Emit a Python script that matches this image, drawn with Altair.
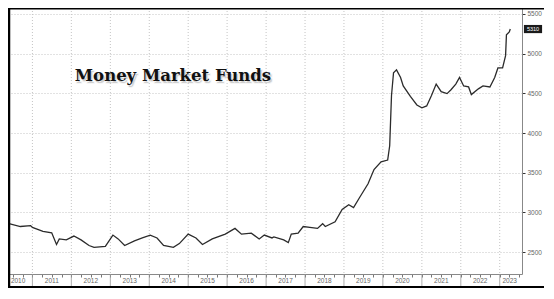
import altair as alt
import pandas as pd

# ---- data (Money Market Fund assets, $bn) ----
dates = ["2010-05-17","2010-09-10","2010-12-15","2011-01-01","2011-04-10","2011-07-01","2011-08-15","2011-09-10",
         "2011-11-15","2012-01-25","2012-04-01","2012-06-15","2012-08-01","2012-11-15","2013-01-25","2013-03-15",
         "2013-05-15","2013-08-15","2013-10-28","2014-01-10","2014-03-15","2014-05-15","2014-08-15","2014-10-10",
         "2015-01-01","2015-03-15","2015-05-15","2015-08-15","2015-12-15","2016-03-15","2016-05-15","2016-08-15",
         "2016-10-28","2016-12-15","2017-02-25","2017-03-15","2017-06-15","2017-07-28","2017-08-25","2017-10-28",
         "2017-12-15","2018-02-15","2018-04-28","2018-06-15","2018-07-10","2018-10-10","2018-12-15","2019-02-15",
         "2019-04-01","2019-05-25","2019-08-15","2019-10-10","2019-12-15","2020-02-15","2020-03-05","2020-03-22",
         "2020-04-10","2020-05-08","2020-06-15","2020-07-10","2020-09-15","2020-11-15","2021-01-01","2021-02-15",
         "2021-04-01","2021-05-15","2021-07-01","2021-08-25","2021-10-01","2021-11-15","2021-12-20","2022-01-28",
         "2022-03-15","2022-04-10","2022-06-15","2022-07-28","2022-10-01","2022-11-15","2022-12-15","2023-01-28",
         "2023-02-25","2023-03-05","2023-04-01","2023-04-10"]
values = [2862,2823,2835,2811,2763,2743,2596,2667,2655,2703,2655,2584,2560,2572,2715,2667,
          2584,2643,2679,2715,2679,2584,2560,2608,2727,2679,2596,2667,2727,2799,2727,2739,
          2667,2715,2679,2691,2655,2620,2727,2739,2823,2811,2799,2859,2823,2883,3038,3098,
          3062,3182,3361,3541,3637,3660,3840,4473,4760,4796,4700,4593,4461,4354,4318,4342,
          4473,4617,4521,4497,4545,4617,4700,4593,4581,4485,4557,4593,4581,4700,4820,4820,
          4975,5238,5274,5310]
assert len(dates) == len(values)

year_starts = [f"{y}-01-01" for y in range(2011, 2024)]
year_labels = ["2010","2011","2012","2013","2014","2015","2016","2017","2018","2019","2020","2021","2022","2023"]
label_dates = ["2010-08-20","2011-07-02","2012-07-02","2013-07-02","2014-07-02","2015-07-02","2016-07-02",
               "2017-07-02","2018-07-02","2019-07-02","2020-07-02","2021-07-02","2022-07-02","2023-04-05"]
y_ticks = [2500, 3000, 3500, 4000, 4500, 5000, 5500]
title_text = "Money Market Funds"

W, H = 514, 266
RP = 22

df = pd.DataFrame({"date": pd.to_datetime(dates), "value": values})
last = df.tail(1).copy()
last["label"] = last["value"].astype(str)
years_df = pd.DataFrame({"date": pd.to_datetime(year_starts)})
labels_df = pd.DataFrame({"date": pd.to_datetime(label_dates), "label": year_labels})
quarters = pd.date_range("2010-07-01", "2023-07-01", freq="QS")

xscale = alt.Scale(domain=[alt.DateTime(year=2010, month=5, date=17),
                           alt.DateTime(year=2023, month=7, date=29)])
yscale = alt.Scale(domain=[2225, 5575], nice=False, zero=False)

xaxis = alt.Axis(values=[alt.DateTime(year=int(d.year), month=int(d.month), date=1) for d in quarters],
                 labels=False, tickSize=3, tickColor="#777", domainColor="#888", grid=False, title=None)
yaxis = alt.Axis(orient="right", values=y_ticks, format="d", grid=True, gridColor="#c4c4c4", gridDash=[1, 2],
                 tickSize=3, tickColor="#333", domainColor="#888", labelFontSize=6.5,
                 labelColor="#666", labelPadding=2, title=None, labelFont="Liberation Sans")

X = alt.X("date:T", scale=xscale, axis=xaxis)

grid = alt.Chart(years_df).mark_rule(color="#c4c4c4", strokeDash=[1, 2], strokeWidth=1).encode(
    x=X, y=alt.value(0), y2=alt.value(H))
major_ticks = alt.Chart(years_df).mark_rule(color="#999", strokeWidth=0.8).encode(
    x=X, y=alt.value(H), y2=alt.value(H + 12))
year_text = alt.Chart(labels_df).mark_text(fontSize=6.5, color="#666", baseline="middle",
                                           font="Liberation Sans").encode(
    x=X, y=alt.value(H + 7), text="label:N")

line = alt.Chart(df).mark_line(color="#2b2b2b", strokeWidth=1.3).encode(
    x=X, y=alt.Y("value:Q", scale=yscale, axis=yaxis))

box = alt.Chart(last).mark_point(shape="M-1,-0.45L1,-0.45L1,0.45L-1,0.45Z", filled=True,
                                 color="#1a1a1a", opacity=1, size=330).encode(
    x=alt.value(W + 11), y=alt.Y("value:Q", scale=yscale, axis=yaxis))
box_text = alt.Chart(last).mark_text(color="white", fontSize=5.5, baseline="middle",
                                     font="Liberation Sans").encode(
    x=alt.value(W + 11), y=alt.Y("value:Q", scale=yscale, axis=yaxis), text="label:N")

title_shadow = alt.Chart(pd.DataFrame({"t": [title_text]})).mark_text(
    font="DejaVu Serif", fontWeight="bold", fontSize=16.5, color="#888", opacity=0.4,
    stroke="#999", strokeWidth=2, strokeOpacity=0.2, baseline="middle").encode(
    x=alt.value(166.5), y=alt.value(69.5), text="t:N")
title = alt.Chart(pd.DataFrame({"t": [title_text]})).mark_text(
    font="DejaVu Serif", fontWeight="bold", fontSize=16.5, color="#111", baseline="middle").encode(
    x=alt.value(165), y=alt.value(68), text="t:N")

frame_left = alt.Chart(years_df.head(1)).mark_rule(color="black", strokeWidth=2.5).encode(
    x=alt.value(1), y=alt.value(0), y2=alt.value(H + 14))
frame_top = alt.Chart(years_df.head(1)).mark_rule(color="black", strokeWidth=2).encode(
    x=alt.value(0), x2=alt.value(W + RP), y=alt.value(0.5))
frame_bottom = alt.Chart(years_df.head(1)).mark_rule(color="black", strokeWidth=2).encode(
    x=alt.value(0), x2=alt.value(W + RP), y=alt.value(H + 13))

chart = alt.layer(grid, major_ticks, year_text, line, box, box_text, title_shadow, title,
                  frame_left, frame_top, frame_bottom).properties(
    width=W, height=H,
    autosize=alt.AutoSizeParams(type="none"),
    padding={"left": 0, "top": 0, "right": RP, "bottom": 14},
    background="white",
).configure_view(stroke=None)

chart.save("out.html", embed_options={"renderer": "svg", "actions": False})
